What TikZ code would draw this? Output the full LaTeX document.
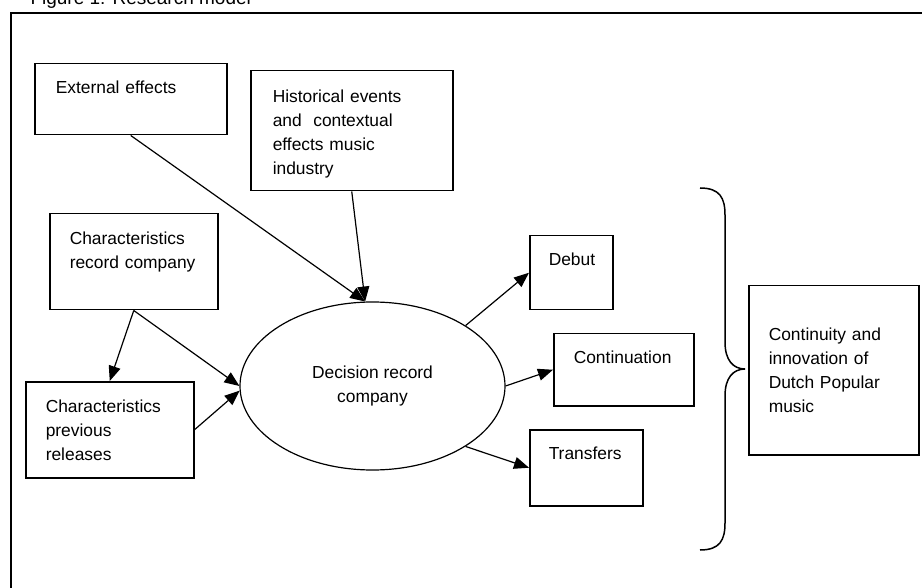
\documentclass[tikz,border=0pt]{standalone}
\usepackage{fontspec}
\setmainfont{Liberation Sans}
\usepackage{tikz}
\usetikzlibrary{shapes.geometric}
\usetikzlibrary{arrows.meta}

\tikzset{
modelbox/.style={draw, line width=1.5pt, anchor=north west, align=left, inner ysep=0pt, inner xsep=20pt},
modelarrow/.style={line width=1.2pt, -{Triangle[length=15pt,width=12pt]}}
}

\begin{document}
\begin{tikzpicture}[x=1pt, y=-1pt, font=\fontsize{17.4}{24}\selectfont]
\useasboundingbox (0,0) rectangle (922,588);
\node[anchor=base west, font=\fontsize{19}{22}\selectfont] (title) at (27,5) {Figure 1: Research model};
\draw[line width=2pt] (11,13) rectangle (940,600);

\node[modelbox, inner xsep=21pt, text width=150pt, text height=30pt, text depth=41pt] (ext) at (34,63) {External effects};
\node[modelbox, inner xsep=22pt, text width=158pt, text height=32pt, text depth=88pt] (hist) at (250,70) {Historical events\\and\ \ contextual\\effects music\\industry};
\node[modelbox, text width=128pt, text height=31pt, text depth=65pt] (rc) at (49,213) {Characteristics\\record company};
\node[modelbox, text width=128pt, text height=31pt, text depth=65pt] (prev) at (25,381) {Characteristics\\previous\\releases};
\node[draw, ellipse, line width=1.2pt, minimum width=265pt, minimum height=168pt, inner sep=0pt, align=center] (dec) at (372.5,386) {Decision record\\company};
\node[modelbox, inner xsep=19pt, text width=45pt, text height=30pt, text depth=44pt] (debut) at (529,235) {Debut};
\node[modelbox, text width=100pt, text height=30pt, text depth=42pt] (cont) at (553,333) {Continuation};
\node[modelbox, inner xsep=19pt, text width=75pt, text height=30pt, text depth=46pt] (trans) at (529,429) {Transfers};
\node[modelbox, text width=130pt, text height=55pt, text depth=114pt] (outcome) at (748,285) {Continuity and\\innovation of\\Dutch Popular\\music};

\draw[modelarrow] (ext.south) -- (dec.95);
\draw[modelarrow] (hist.south) -- (dec.95);
\draw[modelarrow] (rc.south) -- (dec.west);
\draw[modelarrow] (rc.south) -- (prev.north);
\draw[modelarrow] (prev.east) -- (dec.182);
\draw[modelarrow] (dec.33) -- (debut.west);
\draw[modelarrow] (dec.east) -- (cont.west);
\draw[modelarrow] (dec.-33) -- (trans.west);

\draw[line width=1.5pt] (700,188) .. controls (720,188) and (725,198) .. (725,215) -- (725,342)
  .. controls (725,360) and (733,369) .. (745,369)
  .. controls (733,369) and (725,378) .. (725,396) -- (725,523)
  .. controls (725,540) and (720,550) .. (700,550);
\end{tikzpicture}
\end{document}
